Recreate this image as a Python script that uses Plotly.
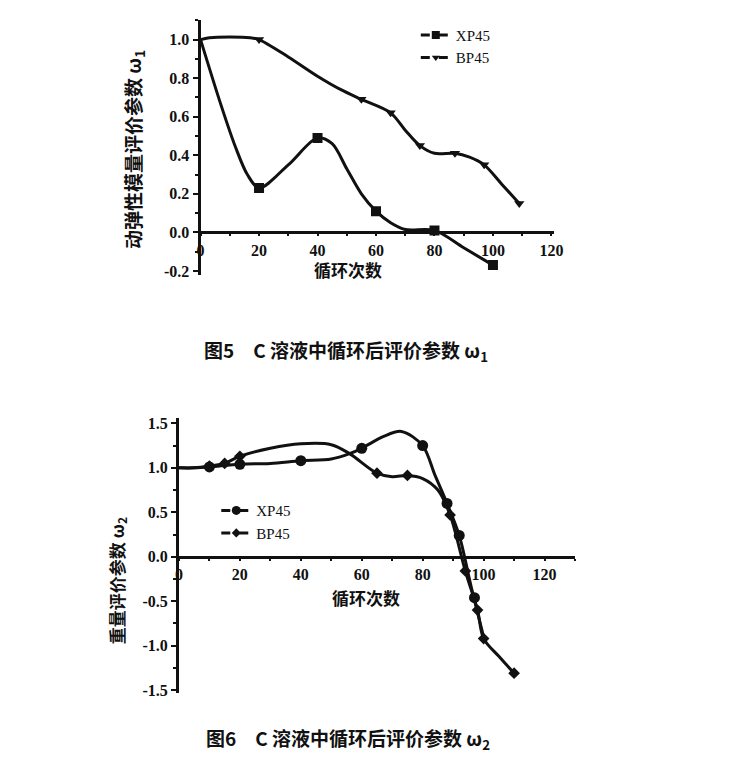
import plotly.graph_objects as go

W, H = 756, 764

# ---------------- Figure 5 data (omega_1) ----------------
f5_xp_curve_x = [0, 7, 12, 16, 20, 30, 40, 45, 50, 55, 60, 65, 70, 80, 90, 100]
f5_xp_curve_y = [1.0, 0.66, 0.44, 0.30, 0.23, 0.35, 0.49, 0.46, 0.33, 0.20, 0.11, 0.05, 0.015, 0.01, -0.08, -0.17]
f5_xp_mark_x = [20, 40, 60, 80, 100]
f5_xp_mark_y = [0.23, 0.49, 0.11, 0.01, -0.17]

f5_bp_curve_x = [0, 3, 17, 20, 30, 40, 48, 55, 65, 70, 75, 80, 87, 92, 97, 103, 109]
f5_bp_curve_y = [1.0, 1.01, 1.01, 1.0, 0.91, 0.81, 0.74, 0.69, 0.62, 0.53, 0.45, 0.41, 0.41, 0.39, 0.35, 0.25, 0.15]
f5_bp_mark_x = [20, 55, 65, 75, 87, 97, 109]
f5_bp_mark_y = [1.0, 0.69, 0.62, 0.45, 0.41, 0.35, 0.15]

# ---------------- Figure 6 data (omega_2) ----------------
f6_xp_curve_x = [0, 5, 10, 20, 30, 40, 50, 56, 60, 67, 73, 80, 84, 88, 92, 96, 100]
f6_xp_curve_y = [1.0, 1.0, 1.01, 1.04, 1.05, 1.08, 1.10, 1.16, 1.22, 1.35, 1.41, 1.25, 0.92, 0.60, 0.24, -0.35, -0.90]
f6_xp_mark_x = [10, 20, 40, 60, 80, 88, 92, 97]
f6_xp_mark_y = [1.01, 1.04, 1.08, 1.22, 1.25, 0.60, 0.24, -0.46]

f6_bp_curve_x = [0, 5, 10, 15, 20, 30, 40, 50, 56, 65, 70, 75, 80, 85, 89, 94, 98, 100, 105, 110]
f6_bp_curve_y = [1.0, 1.0, 1.02, 1.05, 1.13, 1.22, 1.27, 1.26, 1.16, 0.94, 0.90, 0.915, 0.88, 0.75, 0.47, -0.16, -0.60, -0.92, -1.12, -1.31]
f6_bp_mark_x = [10, 15, 20, 65, 75, 89, 94, 98, 100, 110]
f6_bp_mark_y = [1.02, 1.05, 1.13, 0.94, 0.915, 0.47, -0.16, -0.60, -0.92, -1.31]

series_names = ["XP45", "BP45"]

x_ticks = [0, 20, 40, 60, 80, 100, 120]
y1_ticks = [-0.2, 0.0, 0.2, 0.4, 0.6, 0.8, 1.0]
y1_ticklabels = ["-0.2", "0.0", "0.2", "0.4", "0.6", "0.8", "1.0"]
y2_ticks = [-1.5, -1.0, -0.5, 0.0, 0.5, 1.0, 1.5]
y2_ticklabels = ["-1.5", "-1.0", "-0.5", "0.0", "0.5", "1.0", "1.5"]

caption5 = "<b>图5　C 溶液中循环后评价参数 ω<sub>1</sub></b>"
caption6 = "<b>图6　C 溶液中循环后评价参数 ω<sub>2</sub></b>"
ytitle5 = "<b>动弹性模量评价参数 ω<sub>1</sub></b>"
ytitle6 = "<b>重量评价参数 ω<sub>2</sub></b>"
xtitle = "<b>循环次数</b>"

# ---------------- layout geometry ----------------
def px_x(p):
    return p / W

def px_y(p):
    return 1 - p / H

xd1 = [px_x(200), px_x(560)]
yd1 = [px_y(275), px_y(17.5)]
xr1 = [0, 121]
yr1 = [-0.22, 1.1]

xd2 = [px_x(178), px_x(581)]
yd2 = [px_y(698), px_y(420)]
xr2 = [0, 130]
yr2 = [-1.53, 1.56]

def zero_pos(yd, yr):
    return yd[0] + (0 - yr[0]) / (yr[1] - yr[0]) * (yd[1] - yd[0])

SERIF = "Liberation Serif"
CJK = "Noto Sans CJK SC"
BLACK = "#111111"

fig = go.Figure()

def add_series(cx, cy, mx, my, name, symbol, msize, xa, ya, legend):
    fig.add_trace(go.Scatter(x=cx, y=cy, mode="lines", line=dict(color=BLACK, width=3, shape="spline", smoothing=0.9),
                             xaxis=xa, yaxis=ya, showlegend=False, hoverinfo="skip"))
    fig.add_trace(go.Scatter(x=mx, y=my, mode="markers", marker=dict(symbol=symbol, size=msize, color=BLACK),
                             xaxis=xa, yaxis=ya, showlegend=False))
    fig.add_trace(go.Scatter(x=[None], y=[None], mode="lines+markers", name=name,
                             line=dict(color=BLACK, width=3, dash="dash"),
                             marker=dict(symbol=symbol, size=msize - 2, color=BLACK),
                             xaxis=xa, yaxis=ya, legend=legend))

add_series(f5_xp_curve_x, f5_xp_curve_y, f5_xp_mark_x, f5_xp_mark_y, series_names[0], "square", 10, "x", "y", "legend")
add_series(f5_bp_curve_x, f5_bp_curve_y, f5_bp_mark_x, f5_bp_mark_y, series_names[1], "triangle-down", 9, "x", "y", "legend")
add_series(f6_xp_curve_x, f6_xp_curve_y, f6_xp_mark_x, f6_xp_mark_y, series_names[0], "circle", 11, "x2", "y2", "legend2")
add_series(f6_bp_curve_x, f6_bp_curve_y, f6_bp_mark_x, f6_bp_mark_y, series_names[1], "diamond", 9, "x2", "y2", "legend2")

tickfont = dict(family=SERIF, size=16, color=BLACK, weight="bold")

def xaxis_cfg(dom, rng, pos):
    return dict(domain=dom, range=rng, anchor="free", position=pos, showline=True, linewidth=3, linecolor=BLACK,
                showgrid=False, zeroline=False, tickmode="array", tickvals=x_ticks,
                ticktext=[str(v) for v in x_ticks], ticks="outside", ticklen=2, tickwidth=2,
                tickcolor=BLACK, tickfont=tickfont,
                minor=dict(dtick=10, ticks="outside", ticklen=2, tickwidth=2, tickcolor=BLACK))

def yaxis_cfg(dom, rng, vals, labels, anchor, mdt):
    return dict(domain=dom, range=rng, anchor=anchor, showline=True, linewidth=3, linecolor=BLACK,
                showgrid=False, zeroline=False, tickmode="array", tickvals=vals,
                ticktext=labels, ticks="outside", ticklen=5, tickwidth=2,
                tickcolor=BLACK, tickfont=tickfont,
                minor=dict(dtick=mdt, ticks="outside", ticklen=3, tickwidth=2, tickcolor=BLACK))

legfont = dict(family=SERIF, size=15, color=BLACK)

fig.update_layout(
    width=W, height=H, margin=dict(l=0, r=0, t=0, b=0),
    paper_bgcolor="white", plot_bgcolor="white",
    xaxis=xaxis_cfg(xd1, xr1, zero_pos(yd1, yr1)),
    yaxis=yaxis_cfg(yd1, yr1, y1_ticks, y1_ticklabels, "x", 0.1),
    xaxis2=xaxis_cfg(xd2, xr2, zero_pos(yd2, yr2)),
    yaxis2=yaxis_cfg(yd2, yr2, y2_ticks, y2_ticklabels, "x2", 0.25),
    legend=dict(x=px_x(419), y=px_y(16), xanchor="left", yanchor="top", font=legfont,
                bgcolor="rgba(0,0,0,0)", tracegroupgap=0, itemwidth=30),
    legend2=dict(x=px_x(216), y=px_y(497), xanchor="left", yanchor="top", font=legfont,
                 bgcolor="rgba(0,0,0,0)", tracegroupgap=0, itemwidth=30),
    showlegend=True,
)

def ann(text, x, y, size, angle=0):
    return dict(text=text, x=px_x(x), y=px_y(y), xref="paper", yref="paper", showarrow=False,
                xanchor="center", yanchor="middle", textangle=angle,
                font=dict(family=CJK, size=size, color=BLACK))

annotations = [
    ann(caption5, 348, 352, 19),
    ann(caption6, 350, 745, 19),
    ann(ytitle5, 133, 148, 19, -90),
    ann(ytitle6, 115, 585, 17, -90),
    ann(xtitle, 350, 270, 17),
    ann(xtitle, 368, 602, 17),
]
fig.update_layout(annotations=annotations)

fig.write_html("out.html")
